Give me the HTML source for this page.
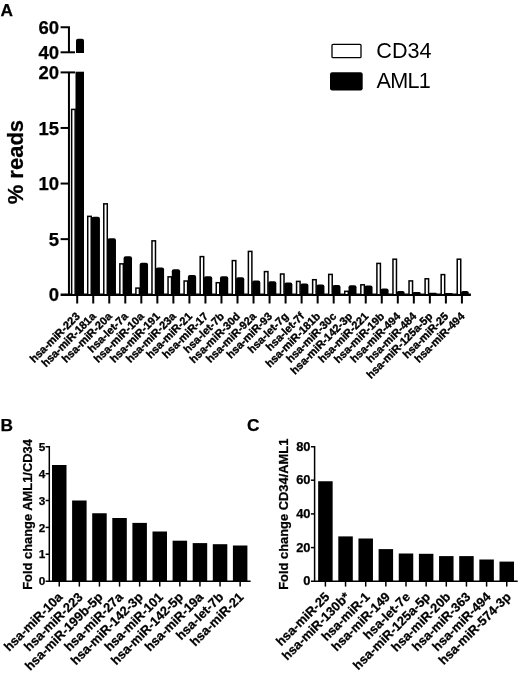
<!DOCTYPE html>
<html><head><meta charset="utf-8"><title>Figure</title>
<style>html,body{margin:0;padding:0;background:#fff}svg{display:block}text{font-family:"Liberation Sans",Arial,Helvetica,sans-serif;fill:#000}.b{font-weight:bold}.s{stroke:#000;stroke-width:.35px}.t{stroke:#000;stroke-width:.25px}</style>
</head><body>
<svg width="520" height="673" viewBox="0 0 520 673">
<rect width="520" height="673" fill="#fff"/>
<text class="b t" x="0.6" y="16.2" font-size="17.3">A</text>
<text class="b t" x="0.5" y="431.2" font-size="17.3">B</text>
<text class="b t" x="247" y="431" font-size="17.3">C</text>
<g stroke="#000" stroke-width="2.0" fill="none">
<path d="M68.95 72.25000000000003V294.75"/>
<path d="M60.6 294.75H470.9" stroke-width="2.4"/>
<path d="M60.6 239.15H68.95"/>
<path d="M60.6 183.55H68.95"/>
<path d="M60.6 127.95H68.95"/>
<path d="M60.6 72.4H75"/>
<path d="M60.6 27.3H68.95V52.3"/>
<path d="M60.6 52.3H75"/>
</g>
<text class="b t" x="59" y="33.90" font-size="18.5" text-anchor="end">60</text>
<text class="b t" x="59" y="58.90" font-size="18.5" text-anchor="end">40</text>
<text class="b t" x="59" y="79.00" font-size="18.5" text-anchor="end">20</text>
<text class="b t" x="59" y="134.55" font-size="18.5" text-anchor="end">15</text>
<text class="b t" x="59" y="190.15" font-size="18.5" text-anchor="end">10</text>
<text class="b t" x="59" y="245.75" font-size="18.5" text-anchor="end">5</text>
<text class="b t" x="59" y="301.35" font-size="18.5" text-anchor="end">0</text>
<text class="b t" font-size="22" transform="translate(23.4 204.3) rotate(-90)">% reads</text>
<g stroke="#000" stroke-width="2.0">
<path d="M77.20 294.75V303.5"/>
<path d="M93.23 294.75V303.5"/>
<path d="M109.26 294.75V303.5"/>
<path d="M125.29 294.75V303.5"/>
<path d="M141.32 294.75V303.5"/>
<path d="M157.35 294.75V303.5"/>
<path d="M173.38 294.75V303.5"/>
<path d="M189.41 294.75V303.5"/>
<path d="M205.44 294.75V303.5"/>
<path d="M221.47 294.75V303.5"/>
<path d="M237.50 294.75V303.5"/>
<path d="M253.53 294.75V303.5"/>
<path d="M269.56 294.75V303.5"/>
<path d="M285.59 294.75V303.5"/>
<path d="M301.62 294.75V303.5"/>
<path d="M317.65 294.75V303.5"/>
<path d="M333.68 294.75V303.5"/>
<path d="M349.71 294.75V303.5"/>
<path d="M365.74 294.75V303.5"/>
<path d="M381.77 294.75V303.5"/>
<path d="M397.80 294.75V303.5"/>
<path d="M413.83 294.75V303.5"/>
<path d="M429.86 294.75V303.5"/>
<path d="M445.89 294.75V303.5"/>
<path d="M461.92 294.75V303.5"/>
</g>
<g stroke="#000" stroke-width="1.5" fill="#fff">
<rect x="71.65" y="109.40" width="3.5" height="185.35"/>
<rect x="87.72" y="216.35" width="3.5" height="78.40"/>
<rect x="103.78" y="203.85" width="3.5" height="90.90"/>
<rect x="119.85" y="263.85" width="3.5" height="30.90"/>
<rect x="135.91" y="288.10" width="3.5" height="6.65"/>
<rect x="151.98" y="240.85" width="3.5" height="53.90"/>
<rect x="168.05" y="276.85" width="3.5" height="17.90"/>
<rect x="184.11" y="281.00" width="3.5" height="13.75"/>
<rect x="200.18" y="256.60" width="3.5" height="38.15"/>
<rect x="216.24" y="282.70" width="3.5" height="12.05"/>
<rect x="232.31" y="260.60" width="3.5" height="34.15"/>
<rect x="248.38" y="251.40" width="3.5" height="43.35"/>
<rect x="264.44" y="271.60" width="3.5" height="23.15"/>
<rect x="280.51" y="274.00" width="3.5" height="20.75"/>
<rect x="296.57" y="281.40" width="3.5" height="13.35"/>
<rect x="312.64" y="279.70" width="3.5" height="15.05"/>
<rect x="328.71" y="274.40" width="3.5" height="20.35"/>
<rect x="344.77" y="291.30" width="3.5" height="3.45"/>
<rect x="360.84" y="284.80" width="3.5" height="9.95"/>
<rect x="376.90" y="263.40" width="3.5" height="31.35"/>
<rect x="392.97" y="259.20" width="3.5" height="35.55"/>
<rect x="409.04" y="280.90" width="3.5" height="13.85"/>
<rect x="425.10" y="278.80" width="3.5" height="15.95"/>
<rect x="441.17" y="274.60" width="3.5" height="20.15"/>
<rect x="457.23" y="259.20" width="3.5" height="35.55"/>
</g>
<g fill="#000">
<rect x="75.5" y="71.7" width="8.5" height="223.05"/>
<path d="M76 52.9V40.7Q76 38.7 78 38.7H82Q84 38.7 84 40.7V52.9Z"/>
<path d="M91.47 294.75V218.75Q91.47 216.75 93.47 216.75H97.94Q99.94 216.75 99.94 218.75V294.75Z"/>
<path d="M107.53 294.75V240.25Q107.53 238.25 109.53 238.25H113.97Q115.97 238.25 115.97 240.25V294.75Z"/>
<path d="M123.60 294.75V258.25Q123.60 256.25 125.60 256.25H130.01Q132.01 256.25 132.01 258.25V294.75Z"/>
<path d="M139.66 294.75V264.75Q139.66 262.75 141.66 262.75H146.04Q148.04 262.75 148.04 264.75V294.75Z"/>
<path d="M155.73 294.75V269.50Q155.73 267.50 157.73 267.50H162.08Q164.08 267.50 164.08 269.50V294.75Z"/>
<path d="M171.80 294.75V271.25Q171.80 269.25 173.80 269.25H178.12Q180.12 269.25 180.12 271.25V294.75Z"/>
<path d="M187.86 294.75V276.90Q187.86 274.90 189.86 274.90H194.15Q196.15 274.90 196.15 276.90V294.75Z"/>
<path d="M203.93 294.75V278.20Q203.93 276.20 205.93 276.20H210.19Q212.19 276.20 212.19 278.20V294.75Z"/>
<path d="M219.99 294.75V278.20Q219.99 276.20 221.99 276.20H226.22Q228.22 276.20 228.22 278.20V294.75Z"/>
<path d="M236.06 294.75V279.30Q236.06 277.30 238.06 277.30H242.26Q244.26 277.30 244.26 279.30V294.75Z"/>
<path d="M252.13 294.75V282.40Q252.13 280.40 254.13 280.40H258.30Q260.30 280.40 260.30 282.40V294.75Z"/>
<path d="M268.19 294.75V283.30Q268.19 281.30 270.19 281.30H274.33Q276.33 281.30 276.33 283.30V294.75Z"/>
<path d="M284.26 294.75V284.50Q284.26 282.50 286.26 282.50H290.37Q292.37 282.50 292.37 284.50V294.75Z"/>
<path d="M300.32 294.75V285.50Q300.32 283.50 302.32 283.50H306.40Q308.40 283.50 308.40 285.50V294.75Z"/>
<path d="M316.39 294.75V286.60Q316.39 284.60 318.39 284.60H322.44Q324.44 284.60 324.44 286.60V294.75Z"/>
<path d="M332.46 294.75V287.00Q332.46 285.00 334.46 285.00H338.48Q340.48 285.00 340.48 287.00V294.75Z"/>
<path d="M348.52 294.75V287.20Q348.52 285.20 350.52 285.20H354.51Q356.51 285.20 356.51 287.20V294.75Z"/>
<path d="M364.59 294.75V287.40Q364.59 285.40 366.59 285.40H370.55Q372.55 285.40 372.55 287.40V294.75Z"/>
<path d="M380.65 294.75V290.60Q380.65 288.60 382.65 288.60H386.58Q388.58 288.60 388.58 290.60V294.75Z"/>
<path d="M396.72 294.75V292.82Q396.72 290.90 398.65 290.90H402.69Q404.62 290.90 404.62 292.82V294.75Z"/>
<path d="M412.79 294.75V293.38Q412.79 292.00 414.16 292.00H419.28Q420.66 292.00 420.66 293.38V294.75Z"/>
<path d="M428.85 294.75V293.77Q428.85 292.80 429.83 292.80H435.72Q436.69 292.80 436.69 293.77V294.75Z"/>
<path d="M444.92 294.75V293.88Q444.92 293.00 445.79 293.00H451.85Q452.73 293.00 452.73 293.88V294.75Z"/>
<path d="M460.98 294.75V292.82Q460.98 290.90 462.91 290.90H466.84Q468.76 290.90 468.76 292.82V294.75Z"/>
</g>
<text class="b s" font-size="11.0" text-anchor="end" transform="translate(80.50 317) rotate(-45)">hsa-miR-223</text>
<text class="b s" font-size="11.0" text-anchor="end" transform="translate(96.53 317) rotate(-45)">hsa-miR-181a</text>
<text class="b s" font-size="11.0" text-anchor="end" transform="translate(112.56 317) rotate(-45)">hsa-miR-20a</text>
<text class="b s" font-size="11.0" text-anchor="end" transform="translate(128.59 317) rotate(-45)">hsa-let-7a</text>
<text class="b s" font-size="11.0" text-anchor="end" transform="translate(144.62 317) rotate(-45)">hsa-miR-10a</text>
<text class="b s" font-size="11.0" text-anchor="end" transform="translate(160.65 317) rotate(-45)">hsa-miR-191</text>
<text class="b s" font-size="11.0" text-anchor="end" transform="translate(176.68 317) rotate(-45)">hsa-miR-23a</text>
<text class="b s" font-size="11.0" text-anchor="end" transform="translate(192.71 317) rotate(-45)">hsa-miR-21</text>
<text class="b s" font-size="11.0" text-anchor="end" transform="translate(208.74 317) rotate(-45)">hsa-miR-17</text>
<text class="b s" font-size="11.0" text-anchor="end" transform="translate(224.77 317) rotate(-45)">hsa-let-7b</text>
<text class="b s" font-size="11.0" text-anchor="end" transform="translate(240.80 317) rotate(-45)">hsa-miR-30d</text>
<text class="b s" font-size="11.0" text-anchor="end" transform="translate(256.83 317) rotate(-45)">hsa-miR-92a</text>
<text class="b s" font-size="11.0" text-anchor="end" transform="translate(272.86 317) rotate(-45)">hsa-miR-93</text>
<text class="b s" font-size="11.0" text-anchor="end" transform="translate(288.89 317) rotate(-45)">hsa-let-7g</text>
<text class="b s" font-size="11.0" text-anchor="end" transform="translate(304.92 317) rotate(-45)">hsa-let-7f</text>
<text class="b s" font-size="11.0" text-anchor="end" transform="translate(320.95 317) rotate(-45)">hsa-miR-181b</text>
<text class="b s" font-size="11.0" text-anchor="end" transform="translate(336.98 317) rotate(-45)">hsa-miR-30c</text>
<text class="b s" font-size="11.0" text-anchor="end" transform="translate(353.01 317) rotate(-45)">hsa-miR-142-3p</text>
<text class="b s" font-size="11.0" text-anchor="end" transform="translate(369.04 317) rotate(-45)">hsa-miR-221</text>
<text class="b s" font-size="11.0" text-anchor="end" transform="translate(385.07 317) rotate(-45)">hsa-miR-19b</text>
<text class="b s" font-size="11.0" text-anchor="end" transform="translate(401.10 317) rotate(-45)">hsa-miR-494</text>
<text class="b s" font-size="11.0" text-anchor="end" transform="translate(417.13 317) rotate(-45)">hsa-miR-484</text>
<text class="b s" font-size="11.0" text-anchor="end" transform="translate(433.16 317) rotate(-45)">hsa-miR-125a-5p</text>
<text class="b s" font-size="11.0" text-anchor="end" transform="translate(449.19 317) rotate(-45)">hsa-miR-25</text>
<text class="b s" font-size="11.0" text-anchor="end" transform="translate(465.22 317) rotate(-45)">hsa-miR-494</text>
<rect x="332" y="44.3" width="29" height="13.4" rx="1" fill="#fff" stroke="#000" stroke-width="1.3"/>
<rect x="330" y="72.3" width="32.7" height="18.2" rx="2.2" fill="#000"/>
<text x="376.3" y="58" font-size="21.6">CD34</text>
<text x="376.6" y="88.3" font-size="21.6" letter-spacing="-0.75">AML1</text>
<g stroke="#000" stroke-width="1.5" fill="none">
<path d="M49.3 446.00V581.2"/>
<path d="M45.599999999999994 581.2H250.6"/>
<path d="M45.599999999999994 554.25H49.3"/>
<path d="M45.599999999999994 527.40H49.3"/>
<path d="M45.599999999999994 500.50H49.3"/>
<path d="M45.599999999999994 473.70H49.3"/>
<path d="M45.599999999999994 446.75H49.3"/>
<path d="M59.25 581.2V586.6"/>
<path d="M79.35 581.2V586.6"/>
<path d="M99.45 581.2V586.6"/>
<path d="M119.55 581.2V586.6"/>
<path d="M139.65 581.2V586.6"/>
<path d="M159.75 581.2V586.6"/>
<path d="M179.85 581.2V586.6"/>
<path d="M199.95 581.2V586.6"/>
<path d="M220.05 581.2V586.6"/>
<path d="M240.15 581.2V586.6"/>
</g>
<text class="b t" x="45.2" y="585.40" font-size="11.8" text-anchor="end">0</text>
<text class="b t" x="45.2" y="558.45" font-size="11.8" text-anchor="end">1</text>
<text class="b t" x="45.2" y="531.60" font-size="11.8" text-anchor="end">2</text>
<text class="b t" x="45.2" y="504.70" font-size="11.8" text-anchor="end">3</text>
<text class="b t" x="45.2" y="477.90" font-size="11.8" text-anchor="end">4</text>
<text class="b t" x="45.2" y="450.95" font-size="11.8" text-anchor="end">5</text>
<g fill="#000">
<rect x="52.00" y="465.00" width="14.5" height="116.20"/>
<rect x="72.10" y="500.50" width="14.5" height="80.70"/>
<rect x="92.20" y="513.25" width="14.5" height="67.95"/>
<rect x="112.30" y="518.00" width="14.5" height="63.20"/>
<rect x="132.40" y="522.90" width="14.5" height="58.30"/>
<rect x="152.50" y="531.50" width="14.5" height="49.70"/>
<rect x="172.60" y="540.70" width="14.5" height="40.50"/>
<rect x="192.70" y="543.10" width="14.5" height="38.10"/>
<rect x="212.80" y="544.20" width="14.5" height="37.00"/>
<rect x="232.90" y="545.50" width="14.5" height="35.70"/>
</g>
<text class="b t" font-size="12.9" transform="translate(32.1 589.8) rotate(-90)">Fold change AML1/CD34</text>
<text class="b t" font-size="12.9" text-anchor="end" transform="translate(63.45 597.8) rotate(-45)">hsa-miR-10a</text>
<text class="b t" font-size="12.9" text-anchor="end" transform="translate(83.55 597.8) rotate(-45)">hsa-miR-223</text>
<text class="b t" font-size="12.9" text-anchor="end" transform="translate(103.65 597.8) rotate(-45)">hsa-miR-199b-5p</text>
<text class="b t" font-size="12.9" text-anchor="end" transform="translate(123.75 597.8) rotate(-45)">hsa-miR-27a</text>
<text class="b t" font-size="12.9" text-anchor="end" transform="translate(143.85 597.8) rotate(-45)">hsa-miR-142-3p</text>
<text class="b t" font-size="12.9" text-anchor="end" transform="translate(163.95 597.8) rotate(-45)">hsa-miR-101</text>
<text class="b t" font-size="12.9" text-anchor="end" transform="translate(184.05 597.8) rotate(-45)">hsa-miR-142-5p</text>
<text class="b t" font-size="12.9" text-anchor="end" transform="translate(204.15 597.8) rotate(-45)">hsa-miR-19a</text>
<text class="b t" font-size="12.9" text-anchor="end" transform="translate(224.25 597.8) rotate(-45)">hsa-let-7b</text>
<text class="b t" font-size="12.9" text-anchor="end" transform="translate(244.35 597.8) rotate(-45)">hsa-miR-21</text>
<g stroke="#000" stroke-width="1.5" fill="none">
<path d="M314.6 446.00V581.2"/>
<path d="M310.90000000000003 581.2H517.7"/>
<path d="M310.90000000000003 547.60H314.6"/>
<path d="M310.90000000000003 513.90H314.6"/>
<path d="M310.90000000000003 480.20H314.6"/>
<path d="M310.90000000000003 446.75H314.6"/>
<path d="M325.40 581.2V586.6"/>
<path d="M345.55 581.2V586.6"/>
<path d="M365.70 581.2V586.6"/>
<path d="M385.85 581.2V586.6"/>
<path d="M406.00 581.2V586.6"/>
<path d="M426.15 581.2V586.6"/>
<path d="M446.30 581.2V586.6"/>
<path d="M466.45 581.2V586.6"/>
<path d="M486.60 581.2V586.6"/>
<path d="M506.75 581.2V586.6"/>
</g>
<text class="b t" x="310.5" y="585.40" font-size="12.9" text-anchor="end">0</text>
<text class="b t" x="310.5" y="551.80" font-size="12.9" text-anchor="end">20</text>
<text class="b t" x="310.5" y="518.10" font-size="12.9" text-anchor="end">40</text>
<text class="b t" x="310.5" y="484.40" font-size="12.9" text-anchor="end">60</text>
<text class="b t" x="310.5" y="450.95" font-size="12.9" text-anchor="end">80</text>
<g fill="#000">
<rect x="318.15" y="481.25" width="14.5" height="99.95"/>
<rect x="338.30" y="536.40" width="14.5" height="44.80"/>
<rect x="358.45" y="538.50" width="14.5" height="42.70"/>
<rect x="378.60" y="549.10" width="14.5" height="32.10"/>
<rect x="398.75" y="553.50" width="14.5" height="27.70"/>
<rect x="418.90" y="553.80" width="14.5" height="27.40"/>
<rect x="439.05" y="556.10" width="14.5" height="25.10"/>
<rect x="459.20" y="556.10" width="14.5" height="25.10"/>
<rect x="479.35" y="559.50" width="14.5" height="21.70"/>
<rect x="499.50" y="561.60" width="14.5" height="19.60"/>
</g>
<text class="b t" font-size="12.9" transform="translate(288.4 589.8) rotate(-90)">Fold change CD34/AML1</text>
<text class="b t" font-size="12.9" text-anchor="end" transform="translate(330.40 597.7) rotate(-45)">hsa-miR-25</text>
<text class="b t" font-size="12.9" text-anchor="end" transform="translate(350.55 597.7) rotate(-45)">hsa-miR-130b*</text>
<text class="b t" font-size="12.9" text-anchor="end" transform="translate(370.70 597.7) rotate(-45)">hsa-miR-1</text>
<text class="b t" font-size="12.9" text-anchor="end" transform="translate(390.85 597.7) rotate(-45)">hsa-miR-149</text>
<text class="b t" font-size="12.9" text-anchor="end" transform="translate(411.00 597.7) rotate(-45)">hsa-let-7e</text>
<text class="b t" font-size="12.9" text-anchor="end" transform="translate(431.15 597.7) rotate(-45)">hsa-miR-125a-5p</text>
<text class="b t" font-size="12.9" text-anchor="end" transform="translate(451.30 597.7) rotate(-45)">hsa-miR-20b</text>
<text class="b t" font-size="12.9" text-anchor="end" transform="translate(471.45 597.7) rotate(-45)">hsa-miR-363</text>
<text class="b t" font-size="12.9" text-anchor="end" transform="translate(491.60 597.7) rotate(-45)">hsa-miR-494</text>
<text class="b t" font-size="12.9" text-anchor="end" transform="translate(511.75 597.7) rotate(-45)">hsa-miR-574-3p</text>
</svg></body></html>
